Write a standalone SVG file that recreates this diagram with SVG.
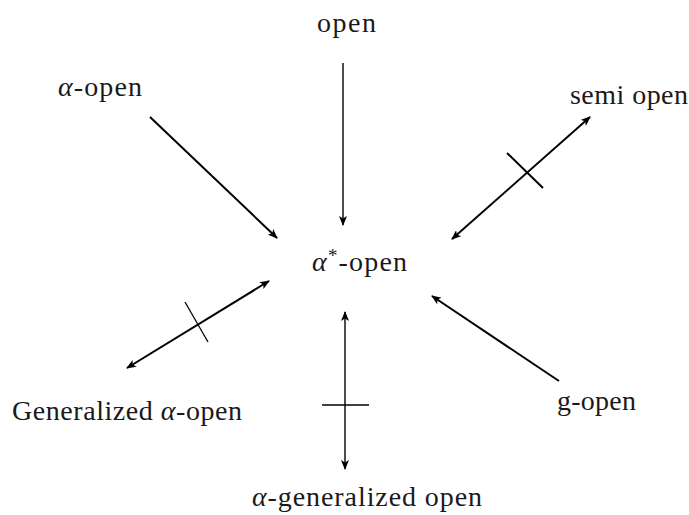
<svg xmlns="http://www.w3.org/2000/svg" width="689" height="515" viewBox="0 0 689 515">
<defs>
<marker id="ah" viewBox="0 0 10 8" refX="9" refY="4" markerWidth="10" markerHeight="8" markerUnits="userSpaceOnUse" orient="auto-start-reverse">
<path d="M0,0 L10,4 L0,8 L2.5,4 Z" fill="#000"/>
</marker>
</defs>
<style>
text{font-family:'Liberation Serif','Times New Roman',serif;font-size:28px;fill:#1a1a1a}
.i{font-style:italic}
.c{stroke:#000;fill:none}
.thick{stroke-width:2}
.thin{stroke-width:1.4}
</style>
<rect width="689" height="515" fill="#fff"/>
<g id="n-open"><text x="317" y="32" textLength="59" lengthAdjust="spacing">open</text></g>
<g id="n-alpha-open"><text x="58" y="96" textLength="84" lengthAdjust="spacing"><tspan class="i">α</tspan>-open</text></g>
<g id="n-semi-open"><text x="570" y="104" textLength="118" lengthAdjust="spacing">semi open</text></g>
<g id="n-alpha-star-open"><text x="312" y="271" textLength="95" lengthAdjust="spacing"><tspan class="i">α</tspan><tspan dy="-9" font-size="19">*</tspan><tspan dy="9">-open</tspan></text></g>
<g id="n-generalized-alpha-open"><text x="12" y="420" textLength="230" lengthAdjust="spacing">Generalized <tspan class="i">α</tspan>-open</text></g>
<g id="n-g-open"><text x="557" y="410" textLength="79" lengthAdjust="spacing">g-open</text></g>
<g id="n-alpha-generalized-open"><text x="252" y="506" textLength="230" lengthAdjust="spacing"><tspan class="i">α</tspan>-generalized open</text></g>
<g id="connectors">
<line class="c thin" x1="343" y1="63" x2="343" y2="225" marker-end="url(#ah)"/>
<line class="c thick" x1="150" y1="117" x2="277" y2="238" marker-end="url(#ah)"/>
<line class="c thick" x1="452" y1="239" x2="590" y2="117" marker-start="url(#ah)" marker-end="url(#ah)"/>
<line class="c thick" x1="507" y1="153" x2="543" y2="188"/>
<line class="c thick" x1="127" y1="368" x2="269" y2="281" marker-start="url(#ah)" marker-end="url(#ah)"/>
<line class="c" stroke="#666" stroke-width="1.3" x1="185" y1="302" x2="208" y2="342"/>
<line class="c thin" x1="345" y1="312" x2="345" y2="469" marker-start="url(#ah)" marker-end="url(#ah)"/>
<line class="c thin" x1="322" y1="405" x2="369" y2="405"/>
<line class="c thick" x1="559" y1="381" x2="432" y2="296" marker-end="url(#ah)"/>
</g>
</svg>
